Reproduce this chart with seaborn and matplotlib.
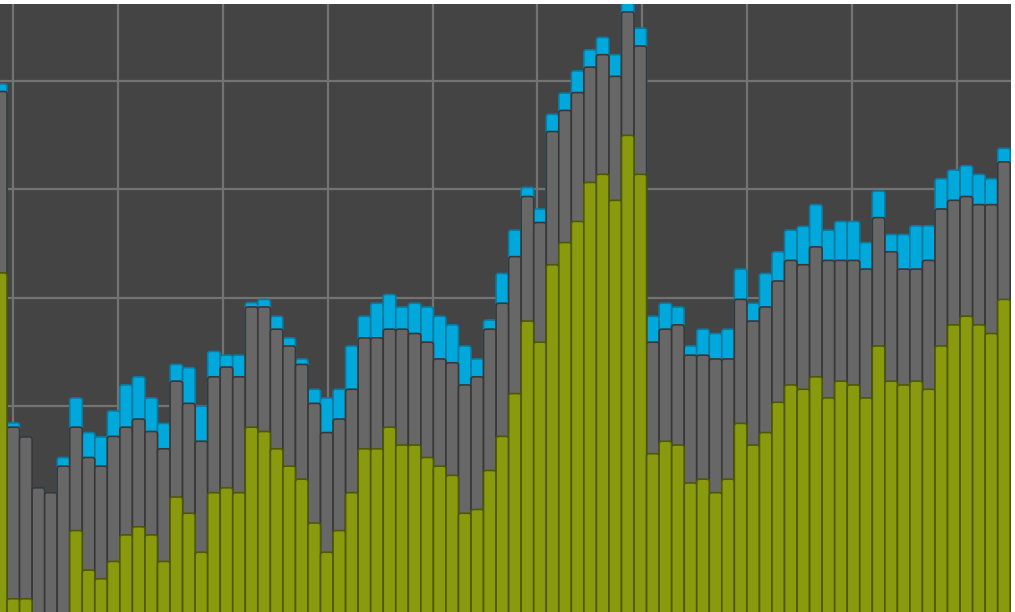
import numpy as np
import matplotlib
matplotlib.use("Agg")
import matplotlib.pyplot as plt
from matplotlib.patches import FancyBboxPatch
import seaborn as sns

# stacked levels (olive bottom, grey middle, cyan top)
olive_top = [64.6, 4.4, 4.4, 0, 0, 0, 17.0, 9.7, 8.1, 11.3,
             16.2, 17.7, 16.2, 11.3, 23.2, 20.2, 13.0, 24.0, 24.9, 24.0,
             36.1, 35.3, 32.1, 28.9, 26.5, 18.4, 13.0, 17.0, 24.0, 32.1,
             32.1, 36.1, 32.8, 32.8, 30.5, 28.9, 27.2, 20.2, 20.9, 28.1,
             34.4, 42.3, 55.7, 51.8, 66.1, 70.2, 74.1, 81.3, 82.8, 78.0,
             90.0, 82.8, 31.2, 33.5, 32.8, 25.8, 26.5, 24.0, 26.5, 36.8,
             32.8, 35.1, 40.7, 43.9, 43.1, 45.4, 41.5, 44.6, 43.9, 41.5,
             51.1, 44.6, 43.9, 44.6, 43.1, 51.1, 55.0, 56.6, 55.0, 53.4,
             59.7]
gray_top = [98.1, 36.1, 34.3, 24.9, 24.0, 28.9, 36.1, 30.5, 28.9, 34.4,
            36.1, 37.6, 35.3, 32.1, 44.6, 40.5, 33.5, 45.4, 47.2, 45.4,
            58.3, 58.3, 54.2, 51.1, 47.7, 40.5, 35.1, 37.6, 43.1, 52.6,
            52.6, 54.2, 54.2, 53.4, 51.8, 48.7, 48.0, 43.9, 45.4, 54.2,
            59.0, 67.6, 78.7, 73.9, 90.7, 94.6, 97.9, 102.6, 104.9, 100.9,
            112.8, 106.5, 51.8, 54.2, 55.0, 49.4, 49.4, 48.7, 48.7, 59.7,
            55.7, 58.3, 63.1, 66.9, 66.1, 69.4, 66.9, 66.9, 66.9, 65.3,
            74.8, 68.5, 65.3, 65.3, 66.9, 76.4, 78.0, 78.7, 77.2, 77.2,
            85.1]
total = [99.5, 36.9, 34.3, 24.9, 24.0, 30.5, 41.5, 35.1, 34.3, 39.1,
         43.9, 45.4, 41.5, 36.8, 47.7, 47.1, 40.0, 50.1, 49.4, 49.4,
         59.1, 59.7, 56.6, 52.6, 48.7, 43.1, 41.5, 43.1, 51.1, 56.6,
         59.0, 60.6, 58.3, 59.0, 58.3, 56.6, 55.0, 51.1, 48.7, 55.9,
         64.5, 72.5, 80.4, 76.4, 93.9, 97.8, 101.9, 105.8, 108.1, 104.9,
         114.5, 109.8, 56.6, 59.0, 58.3, 51.1, 54.2, 53.4, 54.2, 65.3,
         59.0, 64.5, 68.5, 72.5, 73.2, 77.2, 72.5, 74.1, 74.1, 70.2,
         79.7, 71.7, 71.7, 73.3, 73.3, 82.0, 83.6, 84.4, 82.8, 82.0,
         87.6]
idx = list(range(len(total)))

sns.set_theme(style="dark")
fig = plt.figure(figsize=(10.15, 6.12), dpi=100)
fig.patch.set_facecolor("white")
ax = fig.add_axes([0, 0, 1011 / 1015, 608 / 612])
ax.set_facecolor("#444444")

layers = [
    (total, "#00a8dc", "#0b7aa0"),
    (gray_top, "#676767", "#383838"),
    (olive_top, "#8a9a0e", "#4f5905"),
]
for vals, fc, ec in layers:
    sns.barplot(x=idx, y=vals, color=fc, saturation=1, width=1.0,
                edgecolor=ec, linewidth=1.2, errorbar=None, ax=ax)

# round the top corners a bit, like the original
for p in list(ax.patches):
    x, y = p.get_x(), p.get_y()
    w, h = p.get_width(), p.get_height()
    if h <= 0:
        continue
    fb = FancyBboxPatch((x, y), w, h,
                        boxstyle="round,pad=0,rounding_size=0.2",
                        mutation_aspect=2.3,
                        facecolor=p.get_facecolor(), edgecolor=p.get_edgecolor(),
                        linewidth=p.get_linewidth())
    p.remove()
    ax.add_patch(fb)

ax.set_xlim(-0.06, 80.56)
ax.set_ylim(1.96, 114.26)
ax.set_xticks(0.95 + 8.37 * np.arange(10))
ax.set_yticks([20, 40, 60, 80, 100])
ax.set_axisbelow(True)
ax.grid(True, color="#737373", linewidth=1.6)
ax.tick_params(length=0, labelbottom=False, labelleft=False)
ax.set_xlabel("")
ax.set_ylabel("")
for s in ax.spines.values():
    s.set_visible(False)

fig.savefig("out.png", dpi=100, facecolor="white")
